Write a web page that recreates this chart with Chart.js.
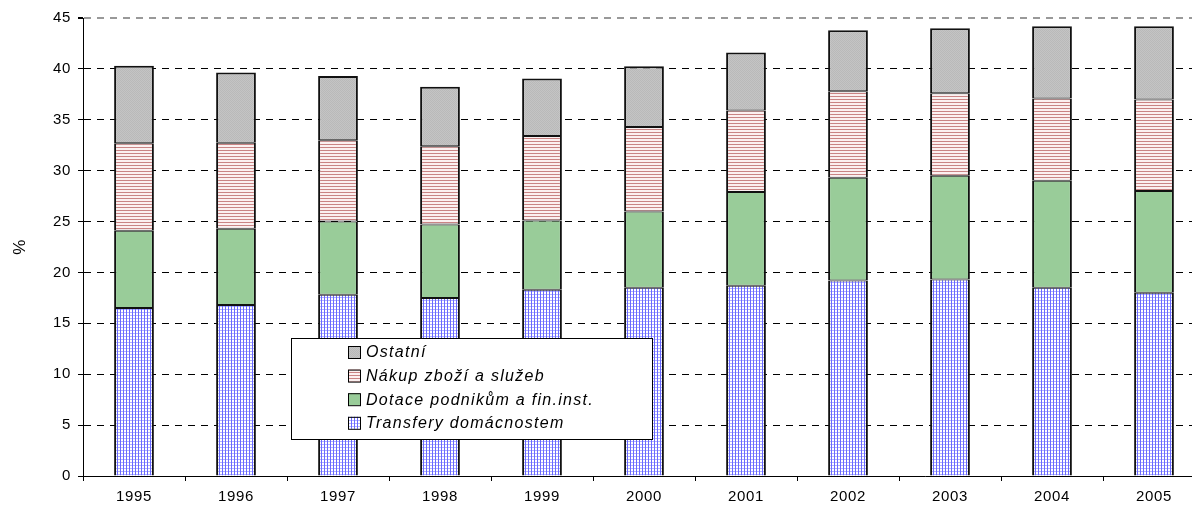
<!DOCTYPE html>
<html>
<head>
<meta charset="utf-8">
<script src="https://cdn.jsdelivr.net/npm/chart.js@4.4.1/dist/chart.umd.min.js"></script>
<style>
  html, body { margin: 0; background: #fff; overflow: hidden; }
  #wrap { width: 1205px; height: 506px; }
</style>
</head>
<body>
<div id="wrap"><canvas id="myChart" width="1205" height="506"></canvas></div>
<script>
const years = ['1995', '1996', '1997', '1998', '1999', '2000', '2001', '2002', '2003', '2004', '2005'];
const transfery = [16.5, 16.8, 17.8, 17.5, 18.3, 18.5, 18.7, 19.2, 19.3, 18.5, 18.0];
const dotace = [7.6, 7.5, 7.2, 7.2, 6.8, 7.5, 9.2, 10.1, 10.2, 10.5, 10.0];
const nakup = [8.6, 8.45, 8.0, 7.7, 8.3, 8.3, 8.0, 8.5, 8.1, 8.1, 9.0];
const ostatni = [7.6, 6.9, 6.3, 5.85, 5.65, 5.95, 5.7, 6.0, 6.4, 7.1, 7.2];
const yTicks = [0, 5, 10, 15, 20, 25, 30, 35, 40, 45];

// fill patterns like the old excel hatches
function makePattern(w, h, paint) {
    const c = document.createElement('canvas');
    c.width = w;
    c.height = h;
    const g = c.getContext('2d');
    paint(g);
    return document.getElementById('myChart').getContext('2d').createPattern(c, 'repeat');
}

const gridBlue = makePattern(3, 3, (g) => {
    g.fillStyle = '#fff';
    g.fillRect(0, 0, 3, 3);
    g.fillStyle = '#b0b0ff';
    g.fillRect(0, 0, 3, 1);
    g.fillStyle = '#6a6aff';
    g.fillRect(0, 0, 1, 3);
});
const stripeRed = makePattern(3, 3, (g) => {
    g.fillStyle = '#fbf0f0';
    g.fillRect(0, 0, 3, 3);
    g.fillStyle = '#c98484';
    g.fillRect(0, 0, 3, 1);
});
const dotGray = makePattern(2, 2, (g) => {
    g.fillStyle = '#c4c4c4';
    g.fillRect(0, 0, 2, 2);
    g.fillStyle = '#b9b9b9';
    g.fillRect(0, 0, 1, 1);
    g.fillRect(1, 1, 1, 1);
});

// slightly wider letter spacing, as in the source picture
const spacing = {
    id: 'spacing',
    beforeDraw(chart) {
        chart.ctx.letterSpacing = '0.6px';
    }
};

const legendBox = {
    id: 'legendBox',
    afterDraw(chart) {
        const ctx = chart.ctx;
        const a = chart.chartArea;
        const x = a.left + 208, y = a.top + 320, w = 361, h = 101;
        ctx.save();
        ctx.fillStyle = '#fff';
        ctx.fillRect(x, y, w, h);
        ctx.strokeStyle = '#000';
        ctx.lineWidth = 1;
        ctx.strokeRect(x + 0.5, y + 0.5, w, h);
        const items = chart.data.datasets.slice().reverse();
        ctx.font = 'italic 16px Arial, "Liberation Sans", sans-serif';
        ctx.textBaseline = 'middle';
        ctx.letterSpacing = '1.3px';
        items.forEach((ds, i) => {
            const cy = y + 14 + i * 23.6;
            ctx.fillStyle = ds.backgroundColor;
            ctx.fillRect(x + 57, cy - 6, 12, 12);
            ctx.strokeStyle = '#000';
            ctx.strokeRect(x + 57.5, cy - 5.5, 12, 12);
            ctx.fillStyle = '#000';
            ctx.fillText(ds.label, x + 75, cy + 1);
        });
        ctx.restore();
    }
};

const edge = (t, b) => ({ left: 2, right: 2, top: t, bottom: b });

Chart.defaults.font.family = 'Arial, "Liberation Sans", sans-serif';
Chart.defaults.color = '#000';

const ctx = document.getElementById('myChart').getContext('2d');
const myChart = new Chart(ctx, {
    type: 'bar',
    data: {
        labels: years,
        datasets: [
            { label: 'Transfery domácnostem', data: transfery, backgroundColor: gridBlue, borderWidth: edge(1, 0) },
            { label: 'Dotace podnikům a fin.inst.', data: dotace, backgroundColor: '#99cc99', borderWidth: edge(1, 1) },
            { label: 'Nákup zboží a služeb', data: nakup, backgroundColor: stripeRed, borderWidth: edge(1, 1) },
            { label: 'Ostatní', data: ostatni, backgroundColor: dotGray, borderWidth: edge(2, 1) }
        ]
    },
    options: {
        responsive: false,
        animation: false,
        layout: {
            padding: { left: 0, top: 18, right: 0, bottom: 0 }
        },
        datasets: {
            bar: {
                borderColor: '#111',
                borderSkipped: false,
                barPercentage: 0.39,
                categoryPercentage: 1
            }
        },
        plugins: {
            legend: { display: false },
            tooltip: { enabled: false }
        },
        scales: {
            x: {
                stacked: true,
                afterFit(scale) { scale.height = 30; },
                grid: {
                    offset: true,
                    drawOnChartArea: false,
                    tickLength: 5,
                    color: '#000'
                },
                border: { color: '#000', width: 1 },
                ticks: { font: { size: 15 }, padding: 7, maxRotation: 0 }
            },
            y: {
                stacked: true,
                min: 0,
                max: 45,
                afterFit(scale) { scale.width = 83; },
                afterBuildTicks(scale) { scale.ticks = yTicks.map(v => ({ value: v })); },
                grid: {
                    color: (c) => c.tick && c.tick.value === 45 ? '#999' : '#000',
                    lineWidth: (c) => c.tick && c.tick.value === 45 ? 2 : 1,
                    tickColor: '#000',
                    tickLength: 5
                },
                border: { color: '#000', width: 1, dash: [7, 6] },
                ticks: { font: { size: 15 }, padding: 7 },
                title: {
                    display: true,
                    text: '%',
                    font: { size: 17 },
                    padding: { top: 10, bottom: 0 }
                }
            }
        }
    },
    plugins: [spacing, legendBox]
});
</script>
</body>
</html>
